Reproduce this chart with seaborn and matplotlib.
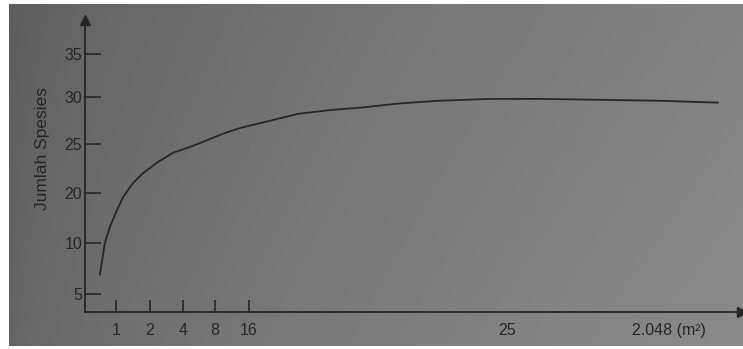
import numpy as np
import matplotlib
matplotlib.use("Agg")
import matplotlib.pyplot as plt
import seaborn as sns

# Species-area curve (textbook figure, photographed). Axes are not linear:
# the tick labels sit at even-ish spacing, so both axes use a piecewise scale.

# curve
luas = [0.74, 0.82, 0.90, 1.03, 1.21, 1.50, 1.79, 2.42, 3.39, 4.88, 7.0, 9.9, 13.9,
        16.5, 17.7, 18.8, 20.0, 21.2, 22.6, 24.4, 437, 1186, 1936, 2913]
spesies = [6.9, 10.0, 13.2, 16.6, 19.2, 21.0, 22.0, 23.1, 24.1, 24.7, 25.4, 26.1, 26.7,
           27.3, 28.2, 28.6, 28.9, 29.3, 29.6, 29.8, 29.8, 29.7, 29.6, 29.4]

x_ticks = [1, 2, 4, 8, 16]
x_extra = [25, 2048]
x_extra_labels = ["25", "2.048 (m\u00b2)"]
y_ticks = [5, 10, 20, 25, 30, 35]

# scale breakpoints (value -> position along the axis)
x_vals = [0.5, 1, 2, 4, 8, 16, 25, 2048, 4096]
x_pos = [0, 31, 65, 98, 130, 164, 422, 584, 700]
y_vals = [0, 5, 10, 20, 25, 30, 35, 40]
y_pos = [-33, 18, 69, 119, 168, 215, 258, 300]


def fwd_x(v):
    return np.interp(v, x_vals, x_pos)


def inv_x(p):
    return np.interp(p, x_pos, x_vals)


def fwd_y(v):
    return np.interp(v, y_vals, y_pos)


def inv_y(p):
    return np.interp(p, y_pos, y_vals)


sns.set_style("ticks")
plt.rcParams["font.family"] = ["Liberation Sans", "DejaVu Sans"]
ink = "#262626"

fig = plt.figure(figsize=(7.43, 3.49), dpi=100)

# photo-like grey paper background with white margins
bg = fig.add_axes([0, 0, 1, 1], zorder=0)
gx = np.linspace(0, 1, 300)
gy = np.linspace(0, 1, 100)[:, None]
shade = 0.36 + 0.15 * gx ** 0.6 + 0.03 * gy
bg.imshow(shade, cmap="gray", vmin=0, vmax=1, aspect="auto",
          extent=[9, 743, 346, 4], interpolation="bilinear")
bg.set_xlim(0, 743)
bg.set_ylim(349, 0)
bg.set_facecolor("white")
bg.axis("off")
fig.patch.set_facecolor("white")

ax = fig.add_axes([85 / 743, 37 / 349, 657 / 743, 292 / 349], zorder=1)
ax.set_facecolor("none")
ax.set_xscale("function", functions=(fwd_x, inv_x))
ax.set_yscale("function", functions=(fwd_y, inv_y))

sns.lineplot(x=luas, y=spesies, ax=ax, color=ink, linewidth=1.3)

ax.set_xlim(0.5, inv_x(657))
ax.set_ylim(inv_y(0), inv_y(292))

ax.set_xticks(x_ticks, labels=[str(t) for t in x_ticks])
ax.set_xticks(x_extra, labels=x_extra_labels, minor=True)
ax.set_yticks(y_ticks, labels=[str(t) for t in y_ticks])
ax.yaxis.set_minor_locator(matplotlib.ticker.NullLocator())

ax.tick_params(axis="x", which="major", direction="in", length=8.5, width=1.2,
               color=ink, labelcolor=ink, labelsize=11.5, pad=8)
ax.tick_params(axis="x", which="minor", length=0, labelcolor=ink,
               labelsize=11.5, pad=8)
ax.tick_params(axis="y", direction="in", length=11.5, width=1.2,
               color=ink, labelcolor=ink, labelsize=11.5, pad=2)

for side in ["top", "right"]:
    ax.spines[side].set_visible(False)
for side in ["left", "bottom"]:
    ax.spines[side].set_color(ink)
    ax.spines[side].set_linewidth(1.3)

# arrow heads at the axis ends
ax.plot(1, 0, ">", color=ink, markersize=7, transform=ax.transAxes, clip_on=False)
ax.plot(0, 1, "^", color=ink, markersize=7, transform=ax.transAxes, clip_on=False)

ax.set_xlabel("")
ax.set_ylabel("Jumlah Spesies", fontsize=12.5, color=ink)
ax.yaxis.set_label_coords(-0.053, 0.56)

fig.savefig("out.png", dpi=100)
